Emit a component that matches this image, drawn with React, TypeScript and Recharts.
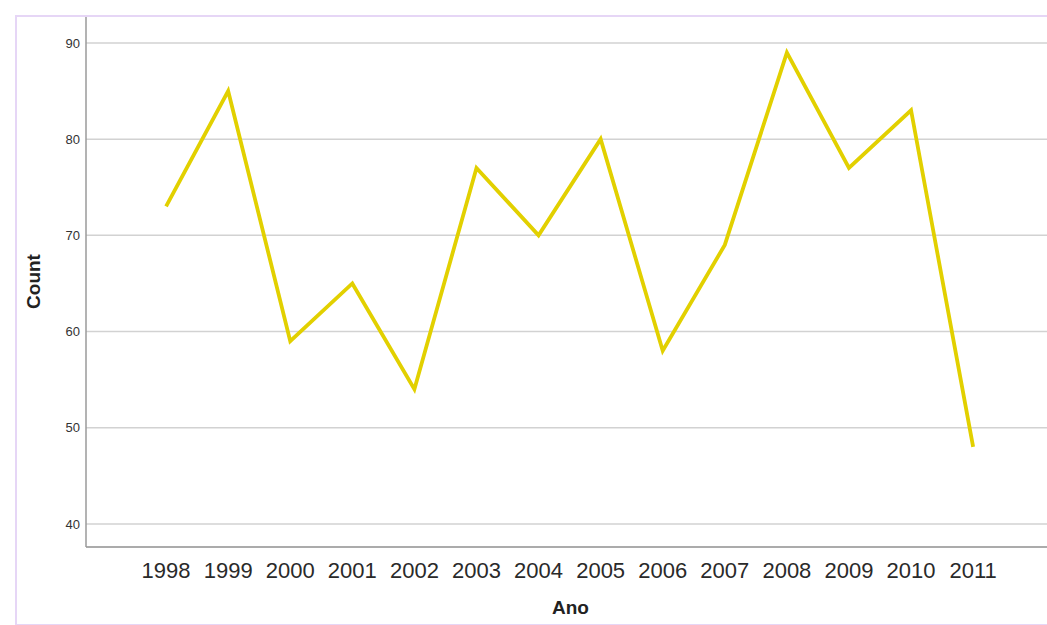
import React from 'react';
import { LineChart, Line, XAxis, YAxis, CartesianGrid, Label } from 'recharts';

const years = [1998, 1999, 2000, 2001, 2002, 2003, 2004, 2005, 2006, 2007, 2008, 2009, 2010, 2011];
const counts = [73, 85, 59, 65, 54, 77, 70, 80, 58, 69, 89, 77, 83, 48];
const yTicks = [40, 50, 60, 70, 80, 90];

const data = years.map((y, i) => ({ ano: y, count: counts[i] }));

const CountLabel = (props: any) => {
  const vb = props.viewBox || {};
  const cx = 33;
  const cy = vb.y + vb.height / 2;
  return (
    <text x={cx} y={cy} transform={`rotate(-90 ${cx} ${cy})`} textAnchor="middle" dominantBaseline="central"
      style={{ fontFamily: 'Liberation Sans, Arial, sans-serif', fontWeight: 'bold', fontSize: 19, fill: '#222' }}>
      Count
    </text>
  );
};

const AnoLabel = (props: any) => {
  const vb = props.viewBox || {};
  const cx = vb.x + vb.width / 2 + 4;
  return (
    <text x={cx} y={614} textAnchor="middle"
      style={{ fontFamily: 'Liberation Sans, Arial, sans-serif', fontWeight: 'bold', fontSize: 19, fill: '#222' }}>
      Ano
    </text>
  );
};

export default function App() {
  return (
    <div style={{ position: 'absolute', left: 0, top: 0, width: 1047, height: 625, background: '#fff', overflow: 'hidden' }}>
      <LineChart width={1047} height={625} data={data} margin={{ top: 16, right: 0, bottom: 0, left: 0 }}
        style={{ position: 'absolute', left: 0, top: 0 }}>
        <CartesianGrid vertical={false} stroke="#d2d2d2" strokeWidth={1.5} />
        <XAxis dataKey="ano" type="number" domain={[1996.71, 2012.19]} ticks={years} height={78}
          tickLine={false} tickMargin={9} axisLine={{ stroke: '#9a9a9a', strokeWidth: 1.5 }}
          tick={{ fontFamily: 'Liberation Sans, Arial, sans-serif', fontSize: 22, fill: '#2a2a2a' }} interval={0}>
          <Label content={<AnoLabel />} />
        </XAxis>
        <YAxis type="number" domain={[37.6, 92.8]} ticks={yTicks} width={86} tickLine={false} tickMargin={0}
          axisLine={{ stroke: '#9a9a9a', strokeWidth: 1.5 }} allowDataOverflow
          tick={{ fontFamily: 'Liberation Sans, Arial, sans-serif', fontSize: 13, fill: '#333' }}>
          <Label content={<CountLabel />} />
        </YAxis>
        <Line type="linear" dataKey="count" stroke="#e2d000" strokeWidth={3.8} dot={false} isAnimationActive={false} />
      </LineChart>
      <div style={{ position: 'absolute', left: 15, top: 15, width: 1100, height: 607, borderLeft: '2px solid #e6d6f6', borderTop: '2px solid #e6d6f6', borderBottom: '1.5px solid #e6d6f6', pointerEvents: 'none' }} />
    </div>
  );
}
